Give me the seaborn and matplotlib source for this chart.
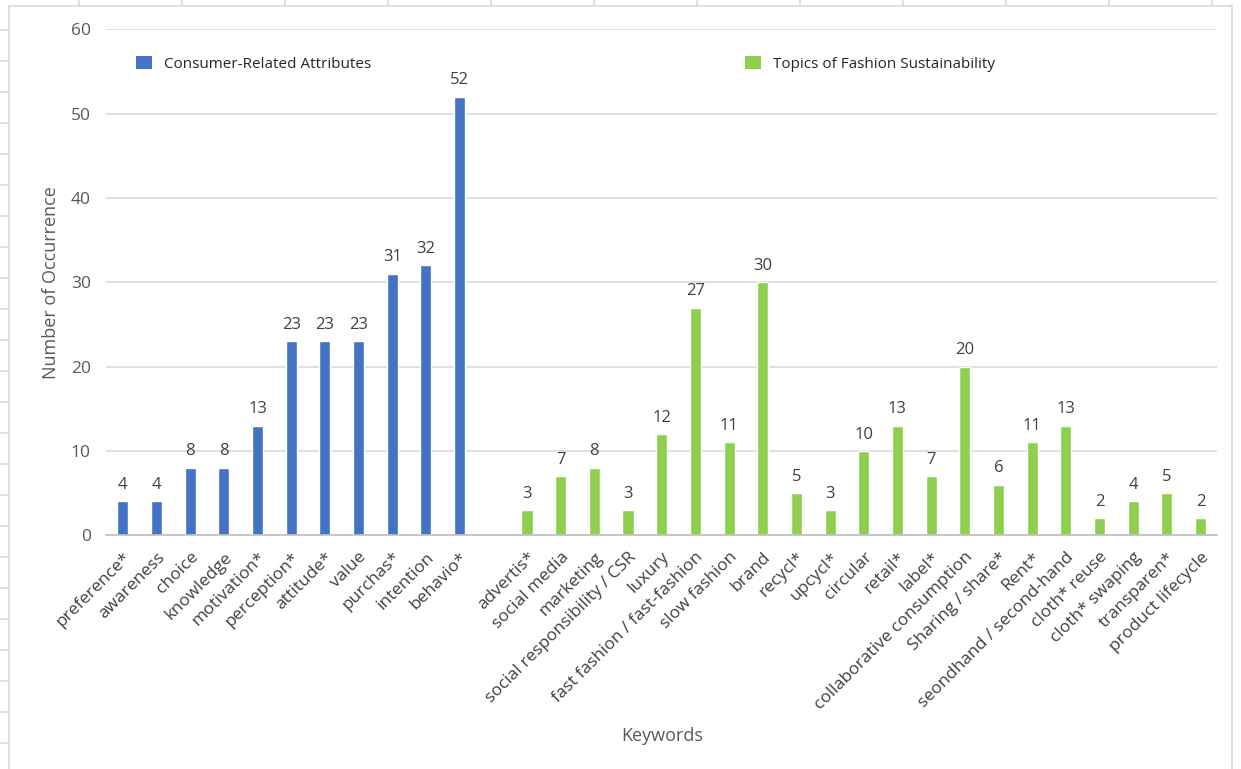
import matplotlib
matplotlib.use("Agg")
import matplotlib.pyplot as plt
from matplotlib.patches import Patch
from matplotlib.lines import Line2D
import seaborn as sns
import pandas as pd
import numpy as np

consumer_keywords = ["preference*", "awareness", "choice", "knowledge", "motivation*",
                     "perception*", "attitude*", "value", "purchas*", "intention", "behavio*"]
consumer_counts = [4, 4, 8, 8, 13, 23, 23, 23, 31, 32, 52]

topic_keywords = ["advertis*", "social media", "marketing", "social responsibility / CSR",
                  "luxury", "fast fashion / fast-fashion", "slow fashion", "brand", "recycl*",
                  "upcycl*", "circular", "retail*", "label*", "collaborative consumption",
                  "Sharing / share*", "Rent*", "seondhand / second-hand", "cloth* reuse",
                  "cloth* swaping", "transparen*", "product lifecycle"]
topic_counts = [3, 7, 8, 3, 12, 27, 11, 30, 5, 3, 10, 13, 7, 20, 6, 11, 13, 2, 4, 5, 2]

group_names = ["Consumer-Related Attributes", "Topics of Fashion Sustainability"]
group_colors = ["#4472C4", "#8FCF4F"]

df = pd.DataFrame({
    "keyword": consumer_keywords + topic_keywords,
    "count": consumer_counts + topic_counts,
    "group": [group_names[0]] * len(consumer_keywords) + [group_names[1]] * len(topic_keywords),
})
# an empty slot separates the two keyword groups
order = consumer_keywords + [" "] + topic_keywords

sns.set_theme(style="white")
plt.rcParams["font.family"] = ["Open Sans", "DejaVu Sans"]

fig = plt.figure(figsize=(12.41, 7.69), dpi=100)
ax = fig.add_axes([0.0854, 0.304, 0.8956, 0.658])

sns.barplot(data=df, x="keyword", y="count", hue="group", order=order,
            hue_order=group_names, palette=group_colors, dodge=False,
            width=0.33, saturation=1, legend=False, ax=ax)

for cont in ax.containers:
    ax.bar_label(cont, fmt="%d", padding=6, fontsize=12, color="#404040")

ax.set_ylim(0, 60)
ax.set_yticks(range(0, 61, 10))
ax.set_xlim(-0.5, len(order) - 0.5)
ax.yaxis.grid(True, color="#D9D9D9", linewidth=1.2)
ax.set_axisbelow(True)
for s in ["left", "top", "right"]:
    ax.spines[s].set_visible(False)
ax.spines["bottom"].set_color("#BFBFBF")
ax.spines["bottom"].set_linewidth(1.2)

ax.set_xticks(np.arange(len(order)))
ax.set_xticklabels(order, rotation=45, ha="right", rotation_mode="anchor",
                   fontsize=12.5, color="#404040")
ax.set_xticks(np.arange(-0.5, len(order)), minor=True)
ax.tick_params(axis="x", which="major", length=0, pad=10)
ax.tick_params(axis="x", which="minor", length=6, width=1.2, color="#BFBFBF", direction="out")
ax.tick_params(axis="y", length=0, labelsize=12.5, labelcolor="#595959", pad=11)

ax.set_xlabel("Keywords", fontsize=13, color="#595959", labelpad=10)
ax.set_ylabel("Number of Occurrence", fontsize=13, color="#595959", labelpad=8)

handles = [Patch(facecolor=c, edgecolor="none") for c in group_colors]
ax.legend(handles, group_names, ncol=2, frameon=False, fontsize=11,
          loc="upper left", bbox_to_anchor=(0.015, 0.975),
          handlelength=1.0, handleheight=1.0, columnspacing=24.5, handletextpad=0.8)

# outer frame of the chart area
frame_kw = dict(color="#D9D9D9", linewidth=1.2, transform=fig.transFigure)
fig.add_artist(Line2D([9 / 1241, 9 / 1241], [0, 1 - 6 / 769], **frame_kw))
fig.add_artist(Line2D([9 / 1241, 1232 / 1241], [1 - 6 / 769, 1 - 6 / 769], **frame_kw))
fig.add_artist(Line2D([1232 / 1241, 1232 / 1241], [0, 1 - 6 / 769], **frame_kw))
for yy in np.arange(30, 769, 31):
    fig.add_artist(Line2D([0, 8 / 1241], [1 - yy / 769, 1 - yy / 769], **frame_kw))
for xx in np.arange(79, 1241, 103):
    fig.add_artist(Line2D([xx / 1241, xx / 1241], [1, 1 - 5 / 769], **frame_kw))

fig.savefig("out.png", dpi=100, facecolor="white")
